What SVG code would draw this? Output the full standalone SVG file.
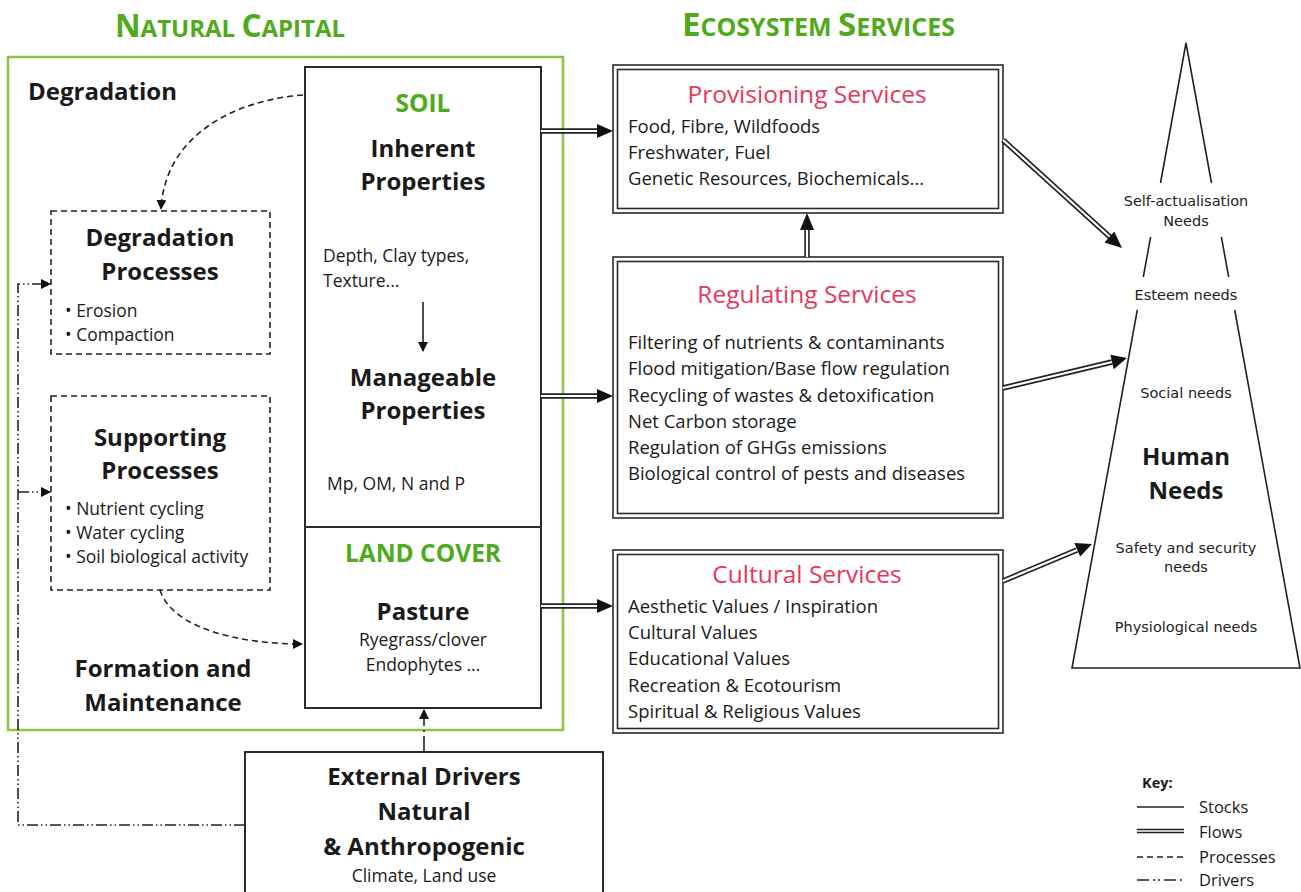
<svg xmlns="http://www.w3.org/2000/svg" width="1301" height="892" viewBox="0 0 1301 892">
<defs>
<style>
.t{font-family:"Open Sans",Lato,sans-serif;fill:#1a1a1a}
.b{font-weight:bold}
.c{text-anchor:middle}
.h{font-weight:bold;font-size:24px}
.s{font-size:17.5px}
.m{font-size:18.5px}
.p{font-size:24.5px;fill:#e8365c}
.green{fill:#4faa1c}
.ar{font-family:"DejaVu Sans","Liberation Sans",sans-serif;fill:#222;font-size:14.5px;text-anchor:middle}
.stock{fill:#fff;stroke:#2a2a2a;stroke-width:2}
.proc{fill:none;stroke:#222;stroke-width:1.6;stroke-dasharray:6,4}
.dbl{fill:none;stroke:#2a2a2a;stroke-width:1.6}
.fo{fill:none;stroke:#222;stroke-width:5.5}
.fi{fill:none;stroke:#fff;stroke-width:2.2}
.drv{fill:none;stroke:#222;stroke-width:1.6;stroke-dasharray:11,3,1.5,3,1.5,3}
.ln{fill:none;stroke:#222;stroke-width:1.6}
.k{font-size:16.5px}
</style>
<marker id="ah" markerUnits="userSpaceOnUse" markerWidth="10" markerHeight="10" refX="9" refY="5" orient="auto">
<path d="M0,0 L10,5 L0,10 Z" fill="#111"/>
</marker>
</defs>
<rect width="1301" height="892" fill="#fff"/>

<g id="titles">
<text class="t b green" x="115" y="37"><tspan font-size="31.5">N</tspan><tspan font-size="24">ATURAL </tspan><tspan font-size="31.5">C</tspan><tspan font-size="24">APITAL</tspan></text>
<text class="t b green" x="682" y="36"><tspan font-size="33">E</tspan><tspan font-size="25">COSYSTEM </tspan><tspan font-size="33">S</tspan><tspan font-size="25">ERVICES</tspan></text>
</g>

<g id="natural-capital">
<rect x="8" y="57" width="555" height="673" fill="none" stroke="#8cc63e" stroke-width="2.5"/>
<text class="t h" x="28" y="100">Degradation</text>
<text class="t h c" x="163" y="677">Formation and</text>
<text class="t h c" x="163" y="711">Maintenance</text>
</g>

<g id="soil">
<rect class="stock" x="305" y="67" width="236" height="641"/>
<line x1="305" y1="527" x2="541" y2="527" stroke="#2a2a2a" stroke-width="2"/>
<text class="t h c green" x="423" y="112" style="font-size:24.5px">SOIL</text>
<text class="t h c" x="423" y="157">Inherent</text>
<text class="t h c" x="423" y="190">Properties</text>
<text class="t s" x="323" y="262">Depth, Clay types,</text>
<text class="t s" x="323" y="287">Texture...</text>
<text class="t h c" x="423" y="386">Manageable</text>
<text class="t h c" x="423" y="419">Properties</text>
<text class="t s" x="327" y="490">Mp, OM, N and P</text>
<text class="t h c green" x="423" y="562" style="font-size:24.5px">LAND COVER</text>
<text class="t h c" x="423" y="620">Pasture</text>
<text class="t s c" x="423" y="646">Ryegrass/clover</text>
<text class="t s c" x="423" y="671">Endophytes ...</text>
</g>

<g id="degradation-processes">
<rect class="proc" x="51" y="211" width="219" height="143"/>
<text class="t h c" x="160" y="246">Degradation</text>
<text class="t h c" x="160" y="280">Processes</text>
<text class="t s" x="65" y="317">• Erosion</text>
<text class="t s" x="65" y="341">• Compaction</text>
</g>

<g id="supporting-processes">
<rect class="proc" x="51" y="396" width="219" height="194"/>
<text class="t h c" x="160" y="446">Supporting</text>
<text class="t h c" x="160" y="479">Processes</text>
<text class="t s" x="65" y="515">• Nutrient cycling</text>
<text class="t s" x="65" y="539">• Water cycling</text>
<text class="t s" x="65" y="563">• Soil biological activity</text>
</g>

<g id="external-drivers">
<rect class="stock" x="245" y="752" width="358" height="160"/>
<text class="t h c" x="424" y="785">External Drivers</text>
<text class="t h c" x="424" y="820">Natural</text>
<text class="t h c" x="424" y="855">&amp; Anthropogenic</text>
<text class="t s c" x="424" y="882">Climate, Land use</text>
</g>

<g id="provisioning">
<rect class="dbl" x="613" y="65" width="390" height="148"/>
<rect class="dbl" x="617.5" y="69.5" width="381" height="139"/>
<text class="t p c" x="807" y="103">Provisioning Services</text>
<text class="t m" x="628" y="133">Food, Fibre, Wildfoods</text>
<text class="t m" x="628" y="159">Freshwater, Fuel</text>
<text class="t m" x="628" y="185">Genetic Resources, Biochemicals...</text>
</g>

<g id="regulating">
<rect class="dbl" x="613" y="257" width="390" height="261"/>
<rect class="dbl" x="617.5" y="261.5" width="381" height="252"/>
<text class="t p c" x="807" y="303">Regulating Services</text>
<text class="t m" x="628" y="349">Filtering of nutrients &amp; contaminants</text>
<text class="t m" x="628" y="375">Flood mitigation/Base flow regulation</text>
<text class="t m" x="628" y="402">Recycling of wastes &amp; detoxification</text>
<text class="t m" x="628" y="428">Net Carbon storage</text>
<text class="t m" x="628" y="454">Regulation of GHGs emissions</text>
<text class="t m" x="628" y="480">Biological control of pests and diseases</text>
</g>

<g id="cultural">
<rect class="dbl" x="613" y="550" width="390" height="183"/>
<rect class="dbl" x="617.5" y="554.5" width="381" height="174"/>
<text class="t p c" x="807" y="583">Cultural Services</text>
<text class="t m" x="628" y="613">Aesthetic Values / Inspiration</text>
<text class="t m" x="628" y="639">Cultural Values</text>
<text class="t m" x="628" y="665">Educational Values</text>
<text class="t m" x="628" y="692">Recreation &amp; Ecotourism</text>
<text class="t m" x="628" y="718">Spiritual &amp; Religious Values</text>
</g>

<g id="human-needs">
<path class="ln" d="M1160.5,183 L1186,43 L1211.5,183 M1150.6,237 L1143.3,277 M1221.4,237 L1228.7,277 M1137.3,310 L1072,668 L1300,668 L1234.7,310"/>
<text class="ar" x="1186" y="206">Self-actualisation</text>
<text class="ar" x="1186" y="226">Needs</text>
<text class="ar" x="1186" y="300">Esteem needs</text>
<text class="ar" x="1186" y="398">Social needs</text>
<text class="t b c" x="1186" y="465" font-size="24">Human</text>
<text class="t b c" x="1186" y="499" font-size="24">Needs</text>
<text class="ar" x="1186" y="553">Safety and security</text>
<text class="ar" x="1186" y="572">needs</text>
<text class="ar" x="1186" y="632">Physiological needs</text>
</g>

<g id="key">
<text class="t b" x="1142" y="788" font-size="14.5">Key:</text>
<line class="ln" x1="1137" y1="807" x2="1184" y2="807"/>
<text class="t k" x="1199" y="813">Stocks</text>
<line class="fo" x1="1137" y1="831" x2="1184" y2="831" style="stroke-width:4.5"/>
<line class="fi" x1="1137" y1="831" x2="1184" y2="831" style="stroke-width:1.5"/>
<text class="t k" x="1199" y="838">Flows</text>
<line class="ln" x1="1137" y1="857" x2="1184" y2="857" stroke-dasharray="6,4"/>
<text class="t k" x="1199" y="863">Processes</text>
<line class="drv" x1="1137" y1="880" x2="1184" y2="880" style="stroke-dasharray:12,4,2,3,2,4"/>
<text class="t k" x="1199" y="886">Drivers</text>
</g>

<g id="connectors">
<path class="fo" d="M541,131 H598"/><path class="fi" d="M541,131 H598"/>
<polygon points="597,124 613,131 597,138" fill="#111"/>
<path class="fo" d="M541,396 H598"/><path class="fi" d="M541,396 H598"/>
<polygon points="597,389 613,396 597,403" fill="#111"/>
<path class="fo" d="M541,606 H598"/><path class="fi" d="M541,606 H598"/>
<polygon points="597,599 613,606 597,613" fill="#111"/>
<path class="fo" d="M807,257 V229"/><path class="fi" d="M807,257 V229"/>
<polygon points="800,230 807,213 814,230" fill="#111"/>
<path class="fo" d="M1003,140 L1110,237"/><path class="fi" d="M1003,140 L1110,237"/>
<polygon points="1104.5,242.4 1122,248 1114.3,231.5" fill="#111"/>
<path class="fo" d="M1003,388 L1112,362"/><path class="fi" d="M1003,388 L1112,362"/>
<polygon points="1110.4,354.8 1127,358 1113.7,369.2" fill="#111"/>
<path class="fo" d="M1003,581 L1077,550"/><path class="fi" d="M1003,581 L1077,550"/>
<polygon points="1074.4,543 1092,544 1080.2,556.6" fill="#111"/>
<line class="ln" x1="423" y1="302" x2="423" y2="351" marker-end="url(#ah)"/>
<path class="proc" d="M303,95 C235,100 165,135 161,209" marker-end="url(#ah)"/>
<path class="proc" d="M160,590 C172,628 238,644 302,644" marker-end="url(#ah)"/>
<path class="drv" d="M245,825 H18 V284 H50" marker-end="url(#ah)"/>
<path class="drv" d="M18,492 H50" marker-end="url(#ah)"/>
<path class="drv" d="M424,752 V710" marker-end="url(#ah)" style="stroke-dasharray:16,4,2,4"/>
</g>
</svg>
